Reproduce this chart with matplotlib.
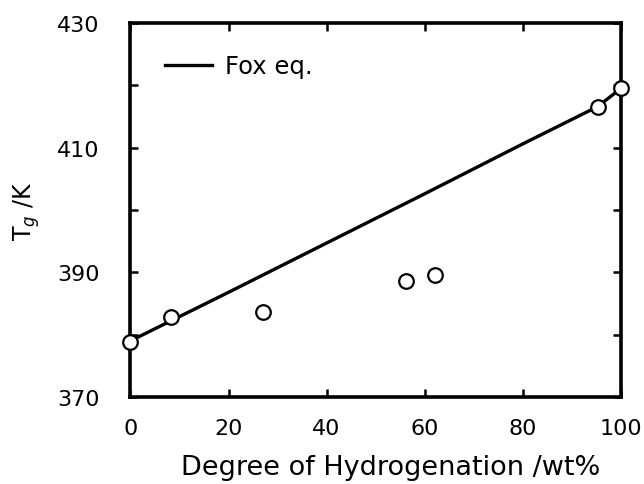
import matplotlib
matplotlib.use("Agg")
import matplotlib.pyplot as plt
from matplotlib.ticker import MultipleLocator, FixedLocator

plt.rcParams["font.family"] = ["DejaVu Sans"]

# measured Tg vs degree of hydrogenation
hyd_wt = [0.0, 8.3, 27.1, 56.1, 62.2, 95.3, 100.0]
tg_k = [378.8, 382.8, 383.7, 388.6, 389.6, 416.6, 419.5]

# Fox equation curve
fox_x = [0, 20, 40, 60, 80, 95.3, 100]
fox_tg = [379.0, 386.8, 394.7, 402.6, 410.6, 416.6, 419.5]

y_major = [370, 390, 410, 430]
y_minor = [380, 400, 420]

fig = plt.figure(figsize=(6.44, 4.85), dpi=100)
ax = fig.add_axes([0.2026, 0.1794, 0.7614, 0.7711])

ax.plot(fox_x, fox_tg, color="black", lw=2.4, label="Fox eq.", zorder=2)
ax.plot(hyd_wt, tg_k, ls="none", marker="o", ms=10.5, mfc="white", mec="black",
        mew=1.6, clip_on=False, zorder=3)

ax.set_xlim(0, 100)
ax.set_ylim(370, 430)
ax.xaxis.set_major_locator(MultipleLocator(20))
ax.yaxis.set_major_locator(FixedLocator(y_major))
ax.yaxis.set_minor_locator(FixedLocator(y_minor))
ax.tick_params(which="both", direction="in", top=True, right=True,
               length=6, width=1.8, labelsize=16)
ax.tick_params(axis="x", pad=15)
ax.tick_params(axis="y", pad=22)
for s in ax.spines.values():
    s.set_linewidth(2.6)

ax.set_xlabel("Degree of Hydrogenation /wt%", fontsize=19.5)
ax.xaxis.set_label_coords(0.53, -0.153, transform=ax.transAxes)
ax.xaxis.label.set_va("top")
ax.set_ylabel(r"T$_g$ /K", fontsize=17, labelpad=11)

ax.legend(loc="center left", bbox_to_anchor=(0.07, 0.885), frameon=False,
          fontsize=17.5, handlelength=1.95, handletextpad=0.54, borderpad=0,
          borderaxespad=0)

fig.savefig("out.png", dpi=100)
